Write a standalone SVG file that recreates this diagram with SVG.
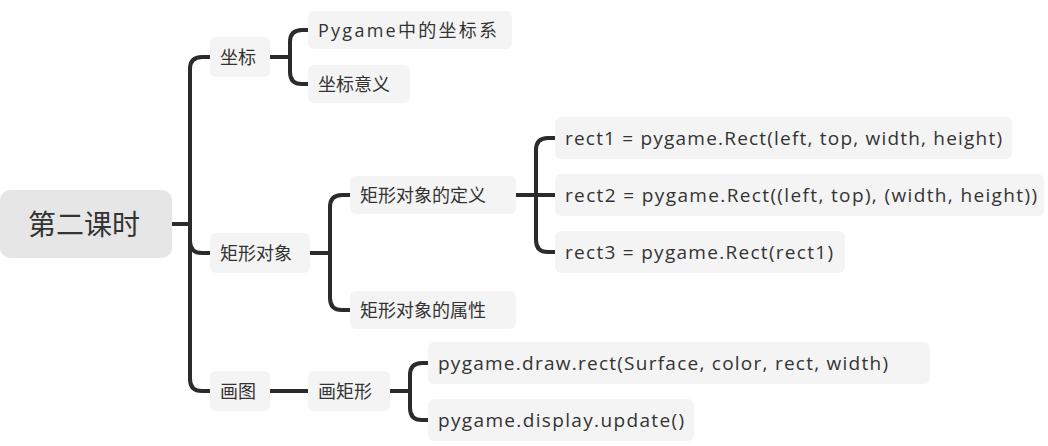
<svg xmlns="http://www.w3.org/2000/svg" width="1048" height="446" viewBox="0 0 1048 446">
<style>
.n rect{fill:#f4f4f4}
.n text{font-family:"Open Sans","Noto Sans CJK SC",sans-serif;font-size:18px;fill:#333;dominant-baseline:central}
.n text.l{font-size:19px}
.c path{fill:none;stroke:#2b2b2b;stroke-width:4;stroke-linecap:round}
</style>
<rect width="1048" height="446" fill="#fff"/>
<g class="c">
<path d="M172 224 H190 V69 Q190 57 202 57 H210"/>
<path d="M190 224 V241 Q190 253 202 253 H210"/>
<path d="M190 224 V379 Q190 391 202 391 H210"/>
<path d="M270 57 H290 V42 Q290 30 302 30 H308"/>
<path d="M290 57 V72 Q290 84 302 84 H308"/>
<path d="M310 253 H330 V207 Q330 195 342 195 H350"/>
<path d="M330 253 V298 Q330 310 342 310 H350"/>
<path d="M516 195 H536 V150 Q536 138 548 138 H555"/>
<path d="M536 195 H555"/>
<path d="M536 195 V240 Q536 252 548 252 H555"/>
<path d="M270 391 H308"/>
<path d="M390 391 H410 V375 Q410 363 422 363 H428"/>
<path d="M410 391 V408 Q410 420 422 420 H428"/>
</g>
<g id="root" class="n"><rect x="0" y="190" width="172" height="68" rx="10" style="fill:#e6e6e6"/><text x="84" y="224" text-anchor="middle" style="font-size:28px">第二课时</text></g>
<g id="n1" class="n"><rect x="210" y="37" width="60" height="40" rx="6"/><text x="220" y="57">坐标</text></g>
<g id="n2" class="n"><rect x="210" y="233" width="100" height="40" rx="6"/><text x="220" y="253">矩形对象</text></g>
<g id="n3" class="n"><rect x="210" y="371" width="60" height="40" rx="6"/><text x="220" y="391">画图</text></g>
<g id="n11" class="n"><rect x="308" y="11" width="204" height="38" rx="6"/><text x="318" y="30" textLength="179" lengthAdjust="spacing">Pygame中的坐标系</text></g>
<g id="n12" class="n"><rect x="308" y="65" width="102" height="38" rx="6"/><text x="318" y="84">坐标意义</text></g>
<g id="n21" class="n"><rect x="350" y="176" width="166" height="38" rx="6"/><text x="360" y="195">矩形对象的定义</text></g>
<g id="n22" class="n"><rect x="350" y="291" width="166" height="38" rx="6"/><text x="360" y="310">矩形对象的属性</text></g>
<g id="n211" class="n"><rect x="555" y="117" width="457" height="42" rx="6"/><text class="l" x="565" y="138" textLength="437" lengthAdjust="spacing">rect1 = pygame.Rect(left, top, width, height)</text></g>
<g id="n212" class="n"><rect x="555" y="174" width="489" height="42" rx="6"/><text class="l" x="565" y="195" textLength="472" lengthAdjust="spacing">rect2 = pygame.Rect((left, top), (width, height))</text></g>
<g id="n213" class="n"><rect x="555" y="231" width="290" height="42" rx="6"/><text class="l" x="565" y="252" textLength="268" lengthAdjust="spacing">rect3 = pygame.Rect(rect1)</text></g>
<g id="n31" class="n"><rect x="308" y="371" width="82" height="40" rx="6"/><text x="318" y="391">画矩形</text></g>
<g id="n311" class="n"><rect x="428" y="342" width="502" height="42" rx="6"/><text class="l" x="438" y="363" textLength="450" lengthAdjust="spacing">pygame.draw.rect(Surface, color, rect, width)</text></g>
<g id="n312" class="n"><rect x="428" y="399" width="266" height="42" rx="6"/><text class="l" x="438" y="420" textLength="246" lengthAdjust="spacing">pygame.display.update()</text></g>
</svg>
